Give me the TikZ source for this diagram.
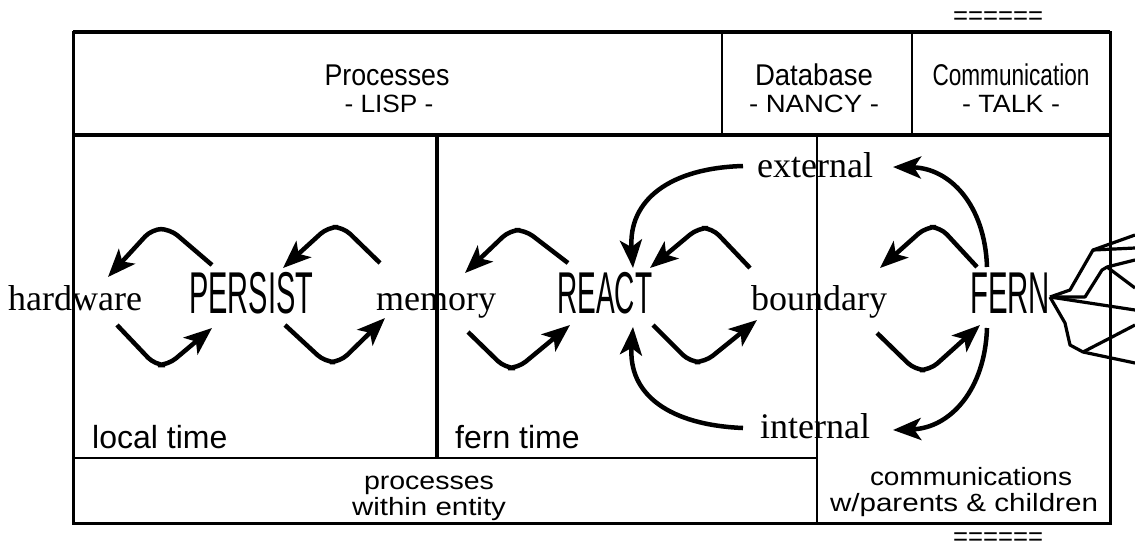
\documentclass[tikz,border=0pt]{standalone}
\usepackage{fontspec}
\setmainfont{Liberation Serif}
\newfontfamily\hv{Liberation Sans}
\usetikzlibrary{arrows.meta}
\newcommand{\fw}[2]{\resizebox{#1}{\height}{#2}}
\begin{document}
\begin{tikzpicture}[x=1pt,y=-1pt,
  txt/.style={inner sep=0pt, anchor=base},
  serifw/.style={inner sep=0pt, anchor=base west, font=\fontsize{36}{36}\selectfont},
  bigw/.style={inner sep=0pt, anchor=base west, font=\hv\fontsize{59}{59}\selectfont},
  hdr/.style={txt, font=\hv\fontsize{30}{30}\selectfont},
  sub/.style={txt, font=\hv\fontsize{25}{25}\selectfont},
  lab/.style={inner sep=0pt, anchor=base west, font=\hv\fontsize{32}{32}\selectfont},
  arr/.style={line width=4.5pt, rounded corners=10pt, -{Stealth[length=28pt,width=22pt,inset=7pt]}},
  carr/.style={line width=4.5pt, -{Stealth[length=28pt,width=22pt,inset=7pt]}},
  fan/.style={line width=3.2pt, line join=round},
  frame/.style={line width=3pt}]
\useasboundingbox (0,0) rectangle (1135,550);
% frame
\draw[frame] (73,32) rectangle (1110,523);
\draw[line width=4pt] (73,32) -- (1110,32);
\draw[line width=4.5pt] (73,135) -- (1110,135);
\draw[line width=2.5pt] (722,32) -- (722,135);
\draw[line width=2.5pt] (912,32) -- (912,135);
\draw[line width=4pt] (437,135) -- (437,458);
\draw[line width=2.5pt] (73,458) -- (817,458);
\draw[line width=2.5pt] (817,135) -- (817,523);
% equals marks
\node[inner sep=0pt, font=\hv\fontsize{26}{26}\selectfont] (eqt) at (998,18) {\fw{90pt}{======}};
\node[inner sep=0pt, font=\hv\fontsize{26}{26}\selectfont] (eqb) at (998,539) {\fw{90pt}{======}};
% header
\node[hdr] (proc) at (387,85) {\fw{125pt}{Processes}};
\node[sub] (lisp) at (389,112) {\fw{89pt}{- LISP -}};
\node[hdr] (db) at (814,85) {\fw{118pt}{Database}};
\node[sub] (nancy) at (814,112) {\fw{130pt}{- NANCY -}};
\node[hdr] (comm) at (1011,85) {\fw{157pt}{Communication}};
\node[sub] (talk) at (1011,112) {\fw{98pt}{- TALK -}};
% words
\node[serifw] (hw) at (8,310) {hardware};
\node[serifw] (mem) at (376,310) {memory};
\node[serifw] (bd) at (751,310) {boundary};
\node[serifw] (ext) at (757,177) {external};
\node[serifw] (int) at (760,438) {internal};
\node[bigw] (persist) at (189,313) {\fw{124pt}{PERSIST}};
\node[bigw] (react) at (557,313) {\fw{95pt}{REACT}};
\node[bigw] (fern) at (970,313) {\fw{80pt}{FERN}};
\node[lab] (lt) at (92,448) {local time};
\node[lab] (ft) at (455,448) {fern time};
\node[sub] (pr1) at (429,489) {\fw{130pt}{processes}};
\node[sub] (pr2) at (429,515) {\fw{154pt}{within entity}};
\node[sub] (cm1) at (971,485) {\fw{202pt}{communications}};
\node[sub] (cm2) at (964,511) {\fw{268pt}{w/parents \& children}};
% PERSIST arrows
\draw[arr] (212,265) -- (170,229) -- (152,229) -- (108,277);
\draw[arr] (117,325) -- (155,365) -- (168,365) -- (212,328);
\draw[arr] (380,263) -- (343,227) -- (328,227) -- (283,268);
\draw[arr] (285,325) -- (325,362) -- (340,362) -- (385,318);
% REACT arrows
\draw[arr] (568,263) -- (525,230) -- (510,230) -- (465,273);
\draw[arr] (468,332) -- (505,368) -- (518,368) -- (570,325);
\draw[arr] (750,268) -- (712,228) -- (698,228) -- (650,268);
\draw[arr] (653,325) -- (690,362) -- (705,362) -- (757,320);
\draw[carr] (743,166) .. controls (670,168) and (628,200) .. (633,268);
\draw[carr] (743,428) .. controls (670,425) and (628,395) .. (633,327);
% FERN arrows
\draw[arr] (977,267) -- (940,227) -- (926,227) -- (880,268);
\draw[arr] (877,333) -- (915,370) -- (930,370) -- (980,325);
\draw[carr] (987,267) .. controls (985,205) and (950,168) .. (893,167);
\draw[carr] (987,328) .. controls (985,390) and (950,428) .. (893,430);
% fan
\coordinate (fo) at (1050,297);
\coordinate (f1) at (1093,250);
\coordinate (f2) at (1107,267);
\coordinate (f3) at (1083,352);
\draw[fan] (fo) -- (1070,290) -- (f1) -- (1135,235);
\draw[fan] (f1) -- (1135,248);
\draw[fan] (fo) -- (1085,297) -- (1102,270) -- (f2) -- (1135,260);
\draw[fan] (f2) -- (1135,288);
\draw[fan] (fo) -- (1135,310);
\draw[fan] (fo) -- (1065,323) -- (1070,345) -- (f3) -- (1112,337) -- (1135,325);
\draw[fan] (f3) -- (1135,363);
\end{tikzpicture}
\end{document}
